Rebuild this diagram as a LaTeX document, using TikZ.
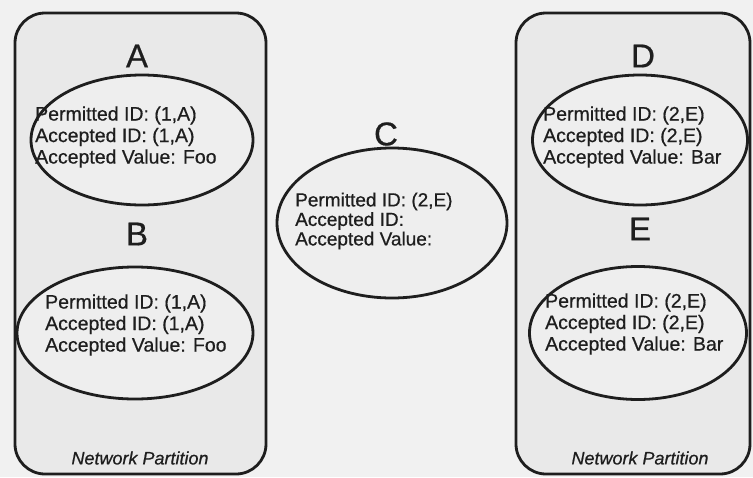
\documentclass[tikz,border=0pt]{standalone}
\usepackage{fontspec}
\setmainfont{Liberation Sans}[FakeBold=0.6]
\usetikzlibrary{shapes.geometric}
\definecolor{bgc}{HTML}{F1F1F1}
\definecolor{boxc}{HTML}{E9E9E9}
\definecolor{ellc}{HTML}{EEEEEE}
\definecolor{inkc}{HTML}{1E1E1E}
\tikzset{
  partbox/.style={draw=inkc, line width=2.8pt, rounded corners=30pt, fill=boxc},
  procell/.style={ellipse, draw=inkc, line width=2.8pt, fill=ellc, inner sep=0pt},
  txt/.style={font=\fontsize{19.5}{21.5}\selectfont, align=left, inner sep=0pt, anchor=west, text=inkc},
  lbl/.style={font=\fontsize{33}{36}\selectfont, inner sep=0pt, text=inkc},
  part/.style={font=\fontsize{18}{20}\selectfont\itshape, inner sep=0pt, text=inkc}
}
\begin{document}
\begin{tikzpicture}[x=1pt,y=-1pt]
\fill[bgc] (0,0) rectangle (753,477);
\useasboundingbox (0,0) rectangle (753,477);
% partition boxes
\draw[partbox] (15,13) rectangle (266,474);
\draw[partbox] (516,13) rectangle (750,474);
% ellipses
\node[procell, minimum width=222pt, minimum height=130pt] (ea) at (142,140) {};
\node[procell, minimum width=236pt, minimum height=132pt] (eb) at (135,333) {};
\node[procell, minimum width=230pt, minimum height=150pt] (ec) at (392,223) {};
\node[procell, minimum width=215pt, minimum height=130pt] (ed) at (640,140) {};
\node[procell, minimum width=217pt, minimum height=133pt] (ee) at (638,333) {};
% labels
\node[lbl] (la) at (137,56) {A};
\node[lbl] (lb) at (137,234) {B};
\node[lbl] (lc) at (386,134) {C};
\node[lbl] (ld) at (643,56) {D};
\node[lbl] (le) at (640,229) {E};
% texts
\node[txt] (ta) at (35,137) {Permitted ID: (1,A)\\Accepted ID: (1,A)\\Accepted Value: Foo};
\node[txt] (tb) at (45,325) {Permitted ID: (1,A)\\Accepted ID: (1,A)\\Accepted Value: Foo};
\node[txt, font=\fontsize{19}{19.5}\selectfont] (tc) at (295,221) {Permitted ID: (2,E)\\Accepted ID:\\Accepted Value:};
\node[txt] (td) at (543,137) {Permitted ID: (2,E)\\Accepted ID: (2,E)\\Accepted Value: Bar};
\node[txt] (te) at (545,324) {Permitted ID: (2,E)\\Accepted ID: (2,E)\\Accepted Value: Bar};
% partition captions
\node[part] (pl) at (140,458) {Network Partition};
\node[part] (pr) at (640,458) {Network Partition};
\end{tikzpicture}
\end{document}
